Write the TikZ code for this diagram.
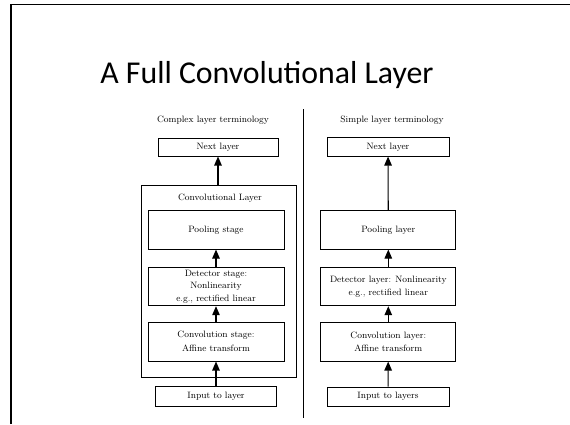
\documentclass[tikz,border=0pt]{standalone}
\usepackage{fontspec}
\newfontfamily\titlefont{Carlito}
\usetikzlibrary{arrows.meta}

\tikzset{
  stagebox/.style={draw, line width=1pt, inner sep=0pt, align=center,
    font=\fontsize{9.2}{13.5}\selectfont},
  caption/.style={inner sep=0pt, font=\fontsize{9.2}{11}\selectfont},
  flow/.style={line width=1.1pt, -{Triangle[length=9pt,width=7.5pt]}},
}

\begin{document}
\begin{tikzpicture}[x=1pt,y=-1pt]
\useasboundingbox (0,0) rectangle (570,424);

% slide frame (top and left edges)
\draw[line width=1.5pt] (11,424) -- (11,4.5) -- (570,4.5);

% title
\node[inner sep=0pt, font=\titlefont\fontsize{31.8}{36}\selectfont] (title) at (267,75) {A Full Convolutional Layer};

% divider between the two terminologies
\coordinate (divtop) at (303.5,109);
\coordinate (divbot) at (303.5,418);
\draw[line width=1pt] (divtop) -- (divbot);

% ---------- complex layer terminology ----------
\node[caption] (lterm) at (213,120) {Complex layer terminology};
\node[stagebox, minimum width=120pt, minimum height=18pt] (lnext) at (218,147) {Next layer};
\node[stagebox, minimum width=155pt, minimum height=192pt] (louter) at (219.2,281) {};
\node[caption] (lconvlabel) at (220,198) {Convolutional Layer};
\node[stagebox, minimum width=136pt, minimum height=38.3pt] (lpool) at (216,229.9) {Pooling stage};
\node[stagebox, minimum width=136pt, minimum height=38.4pt,
      font=\fontsize{9.2}{12.6}\selectfont] (ldet) at (216,286.5)
  {Detector stage:\\Nonlinearity\\e.g., rectified linear};
\node[stagebox, minimum width=136pt, minimum height=39pt] (lconv) at (216,341.5)
  {Convolution stage:\\Affine transform};
\node[stagebox, minimum width=121.7pt, minimum height=19.3pt] (linput) at (216,396.4) {Input to layer};

\draw[flow] (linput) -- (lconv);
\draw[flow] (lconv) -- (ldet);
\draw[flow] (ldet) -- (lpool);
\draw[flow] (lnext.south |- louter.north) -- (lnext.south);

% ---------- simple layer terminology ----------
\node[caption] (rterm) at (392,120) {Simple layer terminology};
\node[stagebox, minimum width=122pt, minimum height=18.3pt] (rnext) at (388,146.9) {Next layer};
\node[stagebox, minimum width=135.3pt, minimum height=38.3pt] (rpool) at (388.3,229.9) {Pooling layer};
\node[stagebox, minimum width=135.3pt, minimum height=38.4pt] (rdet) at (388.3,286.5)
  {Detector layer: Nonlinearity\\e.g., rectified linear};
\node[stagebox, minimum width=135.3pt, minimum height=38.7pt] (rconv) at (388.3,341.7)
  {Convolution layer:\\Affine transform};
\node[stagebox, minimum width=122pt, minimum height=19pt] (rinput) at (388,396.5) {Input to layers};

\draw[flow] (rinput) -- (rconv);
\draw[flow] (rconv) -- (rdet);
\draw[flow] (rdet) -- (rpool);
\draw[flow] (rpool) -- (rnext);
\end{tikzpicture}
\end{document}
